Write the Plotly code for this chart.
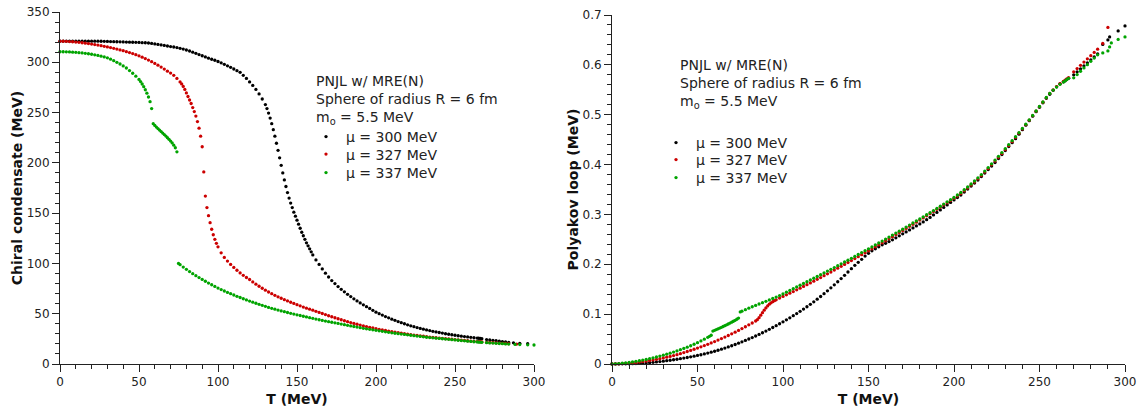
import plotly.graph_objects as go

# ---------------- data ----------------
MU_LABELS = ["μ = 300 MeV", "μ = 327 MeV", "μ = 337 MeV"]
COLORS = ["#000000", "#cc0000", "#00a400"]

# Chiral condensate (MeV) vs T (MeV)
T_CC300 = (list(range(0, 131, 2)) + list(range(131, 161)) + list(range(162, 263, 2))
           + [264, 265, 266, 267] + list(range(270, 285, 2)) + [287, 291, 296])
CC300 = [
    321, 321, 321, 321, 321, 321, 321, 321, 321, 321,
    321, 321, 321, 320.9, 320.8, 320.7, 320.6, 320.5, 320.4, 320.3,
    320.2, 320.1, 320, 319.9, 319.8, 319.7, 319.5, 319.4, 319.2, 318.8,
    318.3, 317.8, 317.3, 316.8, 316.2, 315.6, 315.2, 314.6, 313.9, 313.1,
    312.2, 311.2, 310.1, 308.9, 307.7, 306.5, 305.3, 304.1, 303, 302,
    300.8, 299.5, 298, 296.5, 295, 293.3, 291.7, 290, 287, 284,
    280.5, 277, 273, 268.5, 263.5, 258,
    254, 249.5, 244.5, 239, 233, 226.5, 219.5, 212.5, 205, 197.5,
    190, 183, 176.5, 170.5, 165, 160, 155.5, 151, 147, 143,
    139, 135, 131, 127.5, 124, 120.5, 117.5, 114.5, 111.5, 108.5,
    103.5, 99, 94.5, 90.3, 86.5, 83, 80, 77, 74.3, 71.8,
    69.3, 67, 64.8, 62.7, 60.7, 58.8, 57, 55.3, 53.4, 51.5,
    50, 48.6, 47.2, 45.9, 44.6, 43.4, 42.2, 41.1, 40, 39,
    38, 37.1, 36.2, 35.4, 34.6, 33.9, 33.2, 32.5, 31.9, 31.3,
    30.7, 30.1, 29.6, 29.1, 28.6, 28.1, 27.7, 27.3, 26.9, 26.5,
    26.1,
    25.8, 25.6, 25.4, 25.2,
    24.3, 23.9, 23.5, 23.1, 22.7, 22.3, 21.9, 21.5,
    21.1, 20.6, 20.2,
]

T_CC327 = (list(range(0, 77, 2)) + list(range(77, 101)) + list(range(102, 263, 2))
           + [264, 265, 266, 267] + list(range(270, 285, 2)) + [289])
CC327 = [
    321, 320.9, 320.8, 320.6, 320.4, 320.1, 319.8, 319.4, 319, 318.6,
    318.1, 317.6, 317.1, 316.5, 315.9, 315.3, 314.6, 313.9, 313.1, 312.3,
    311.5, 310.6, 309.7, 308.7, 307.6, 306.4, 305.1, 303.7, 302.2, 300.6,
    298.9, 297.1, 295.2, 293.2, 291.2, 289.3, 287, 284, 280.5,
    278.5, 276, 273, 269.5, 266, 262.5, 259, 255, 251, 246.5,
    241, 234.5, 226.5, 216, 191, 167, 155.5, 147.5, 140.5, 134,
    128.5, 124, 120, 116.5,
    110.5, 106, 102.3, 99, 96, 93.2, 90.6, 88.2, 86, 84,
    81.6, 79.4, 77.3, 75.3, 73.4, 71.6, 69.9, 68.3, 66.8, 65.4,
    64, 62.7, 61.4, 60.2, 59, 57.8, 56.6, 55.5, 54.5, 53.5,
    52.4, 51.3, 50.2, 49.1, 48, 47, 46, 45, 44, 43,
    42.1, 41.2, 40.3, 39.5, 38.7, 37.9, 37.2, 36.5, 35.8, 35.1,
    34.5, 33.9, 33.3, 32.7, 32.2, 31.7, 31.2, 30.7, 30.2, 29.7,
    29.2, 28.8, 28.4, 28, 27.6, 27.2, 26.8, 26.4, 26.1, 25.8,
    25.5, 25.2, 24.9, 24.6, 24.3, 24, 23.7, 23.4, 23.1, 22.8,
    22.5,
    22.3, 22.2, 22.1, 22,
    21.6, 21.4, 21.2, 21, 20.8, 20.6, 20.4, 20.2,
    19.8,
]

T_CC337 = (list(range(0, 51, 2)) + list(range(51, 75)) + [75] + list(range(76, 263, 2))
           + [264, 265, 266, 267] + list(range(270, 285, 2)) + [288, 291, 296, 300])
CC337 = [
    310.5, 310.5, 310.4, 310.3, 310.1, 309.9, 309.6, 309.3, 308.9, 308.5,
    308, 307.4, 306.8, 306.1, 305.3, 304.4, 303.1, 301.6, 300, 298.3,
    296.4, 294.3, 291.8, 289.1, 286.2, 283,
    280.8, 278.4, 275.7, 272.7, 269.3, 265.5, 260.8, 254,
    239, 237.2, 235.6, 234.1, 232.6, 231.1, 229.6, 228.1,
    226.6, 225, 223.4, 221.7, 219.8, 217.6, 215, 211,
    100,
    98.8, 96.4, 94.1, 91.9, 89.8, 87.8, 85.9, 84.1, 82.3, 80.5,
    78.8, 77.1, 75.5, 74, 72.6, 71.2, 69.9, 68.6, 67.3, 66.1,
    64.9, 63.7, 62.6, 61.5, 60.4, 59.3, 58.3, 57.3, 56.3, 55.4,
    54.5, 53.6, 52.8, 52, 51.2, 50.4, 49.6, 48.9, 48.2, 47.5,
    46.8, 46.1, 45.4, 44.7, 44, 43.3, 42.7, 42.1, 41.5, 40.9,
    40.3, 39.7, 39.1, 38.5, 37.9, 37.3, 36.7, 36.1, 35.5, 35,
    34.5, 34, 33.5, 33, 32.5, 32, 31.5, 31, 30.6, 30.2,
    29.8, 29.4, 29, 28.6, 28.2, 27.8, 27.4, 27, 26.6, 26.3,
    26, 25.7, 25.4, 25.1, 24.8, 24.5, 24.2, 23.9, 23.6, 23.3,
    23, 22.7, 22.4, 22.1,
    21.9, 21.8, 21.7, 21.6,
    21.2, 21, 20.8, 20.6, 20.4, 20.2, 20, 19.8,
    19.5, 19.3, 19.1, 18.9,
]

# Polyakov loop vs T (MeV)
T_PL300 = (list(range(0, 263, 2)) + [264, 265, 266, 267] + list(range(270, 285, 2))
           + [287, 290, 291, 296, 300])
PL300 = [
    0, 0.0001, 0.0002, 0.0003, 0.0004, 0.0005, 0.0007, 0.001, 0.0013, 0.0017,
    0.0021, 0.0027, 0.0034, 0.0041, 0.0049, 0.0057, 0.0066, 0.0075, 0.0085, 0.0095,
    0.0106, 0.0118, 0.013, 0.0143, 0.0157, 0.0171, 0.0186, 0.0202, 0.0219, 0.0237,
    0.0256, 0.0276, 0.0297, 0.0319, 0.0342, 0.0366, 0.0391, 0.0417, 0.0444, 0.0472,
    0.0501, 0.0531, 0.0562, 0.0594, 0.0627, 0.0661, 0.0696, 0.0732, 0.0769, 0.0807,
    0.0846, 0.0886, 0.0927, 0.0969, 0.1012, 0.1056, 0.1101, 0.1148, 0.1197, 0.1248,
    0.13, 0.1354, 0.141, 0.1468, 0.1527, 0.1588, 0.165, 0.1714, 0.1779, 0.1845,
    0.1911, 0.198, 0.204, 0.21, 0.2165, 0.222, 0.227, 0.231, 0.235, 0.239,
    0.242, 0.2455, 0.249, 0.253, 0.257, 0.261, 0.265, 0.269, 0.273, 0.277,
    0.281, 0.285, 0.2895, 0.294, 0.299, 0.304, 0.309, 0.314, 0.319, 0.324,
    0.329, 0.334, 0.339, 0.345, 0.351, 0.357, 0.363, 0.369, 0.376, 0.383,
    0.39, 0.397, 0.404, 0.412, 0.42, 0.428, 0.436, 0.444, 0.452, 0.461,
    0.47, 0.479, 0.488, 0.497, 0.506, 0.515, 0.524, 0.533, 0.541, 0.549,
    0.556, 0.562,
    0.566, 0.568, 0.571, 0.573,
    0.58, 0.586, 0.592, 0.598, 0.604, 0.61, 0.616, 0.622,
    0.641, 0.65, 0.656, 0.668, 0.678,
]

T_PL327 = (list(range(0, 85, 2)) + list(range(85, 96)) + list(range(96, 263, 2))
           + [264, 265, 266, 267] + list(range(270, 285, 2)) + [287, 290])
PL327 = [
    0, 0.0001, 0.0004, 0.0008, 0.0013, 0.0019, 0.0025, 0.0032, 0.004, 0.0049,
    0.0059, 0.007, 0.0082, 0.0094, 0.0107, 0.0121, 0.0136, 0.0152, 0.0169, 0.0188,
    0.0208, 0.0229, 0.0251, 0.0273, 0.0296, 0.032, 0.0344, 0.0369, 0.0395, 0.0422,
    0.045, 0.0479, 0.0509, 0.054, 0.0572, 0.0605, 0.0639, 0.0674, 0.071, 0.0747,
    0.0785, 0.0822, 0.0862,
    0.089, 0.093, 0.098, 0.103, 0.108, 0.1125, 0.1165, 0.12, 0.1228, 0.125, 0.127,
    0.1288, 0.1322, 0.1355, 0.1387, 0.142, 0.1453, 0.1487, 0.1521, 0.1556, 0.1591,
    0.1626, 0.1662, 0.1698, 0.1734, 0.1771, 0.1808, 0.1845, 0.1883, 0.1921, 0.1959,
    0.1997, 0.2036, 0.2075, 0.2114, 0.2153, 0.2192, 0.2231, 0.2271, 0.2311, 0.2351,
    0.2391, 0.2431, 0.2472, 0.2513, 0.2554, 0.2595, 0.2636, 0.2677, 0.2719, 0.2761,
    0.2803, 0.2845, 0.2887, 0.293, 0.2973, 0.3016, 0.3059, 0.3102, 0.3146, 0.319,
    0.3234, 0.3278, 0.3322, 0.337, 0.342, 0.3475, 0.353, 0.359, 0.365, 0.3715,
    0.378, 0.385, 0.392, 0.3995, 0.407, 0.4145, 0.422, 0.43, 0.438, 0.446,
    0.4545, 0.463, 0.4715, 0.48, 0.489, 0.498, 0.507, 0.516, 0.525, 0.534,
    0.5425, 0.55, 0.5565, 0.5625,
    0.567, 0.5695, 0.572, 0.5745,
    0.586, 0.5925, 0.599, 0.6055, 0.612, 0.6185, 0.625, 0.6315,
    0.643, 0.675,
]

T_PL337 = (list(range(0, 57, 2)) + list(range(57, 77)) + list(range(78, 263, 2))
           + [264, 265, 266, 267] + list(range(270, 285, 2)) + [287, 290, 291, 292, 296, 300])
PL337 = [
    0, 0.0003, 0.0008, 0.0015, 0.0023, 0.0032, 0.0042, 0.0053, 0.0065, 0.0078,
    0.0092, 0.0107, 0.0123, 0.014, 0.0158, 0.0177, 0.0197, 0.0218, 0.024, 0.0263,
    0.0287, 0.0312, 0.0338, 0.0366, 0.0396, 0.0428, 0.0462, 0.0498, 0.0536,
    0.0556, 0.0577, 0.066, 0.0675, 0.069, 0.0705, 0.072, 0.0736, 0.0752, 0.0768,
    0.0785, 0.0802, 0.082, 0.0838, 0.0857, 0.0877, 0.0898, 0.0922, 0.1045, 0.106,
    0.109, 0.112, 0.1148, 0.1175, 0.1203, 0.123, 0.1258, 0.1286, 0.1314, 0.1343,
    0.1372, 0.1405, 0.144, 0.1475, 0.151, 0.1545, 0.158, 0.1615, 0.165, 0.1685,
    0.172, 0.1755, 0.1791, 0.1827, 0.1863, 0.1899, 0.1935, 0.1972, 0.2009, 0.2046,
    0.2083, 0.212, 0.2158, 0.2196, 0.2234, 0.2272, 0.231, 0.2349, 0.2388, 0.2427,
    0.2466, 0.2505, 0.2545, 0.2585, 0.2625, 0.2665, 0.2705, 0.2746, 0.2787, 0.2828,
    0.2869, 0.291, 0.2952, 0.2994, 0.3036, 0.3078, 0.312, 0.3164, 0.3208, 0.3252,
    0.3296, 0.334, 0.339, 0.344, 0.3495, 0.355, 0.361, 0.367, 0.3735, 0.38,
    0.387, 0.394, 0.4015, 0.409, 0.4165, 0.424, 0.432, 0.44, 0.448, 0.456,
    0.464, 0.4725, 0.481, 0.4895, 0.4985, 0.5075, 0.5165, 0.5255, 0.5345, 0.5425,
    0.5495, 0.5555, 0.561,
    0.5655, 0.568, 0.5705, 0.573,
    0.574, 0.5806, 0.5872, 0.5938, 0.6004, 0.607, 0.6136, 0.6202,
    0.624, 0.628, 0.636, 0.644, 0.651, 0.656,
]

NOTE_LINES = ["PNJL w/ MRE(N)", "Sphere of radius R = 6 fm", "m<sub>o</sub> = 5.5 MeV"]

LEFT = [(T_CC300, CC300), (T_CC327, CC327), (T_CC337, CC337)]
RIGHT = [(T_PL300, PL300), (T_PL327, PL327), (T_PL337, PL337)]
for tx, vy in LEFT + RIGHT:
    assert len(tx) == len(vy), (len(tx), len(vy))

# ---------------- figure ----------------
W, H = 1140, 410
FONT = "DejaVu Sans"
INK = "#222222"


def px(x):
    return x / W


def py(y):
    return 1 - y / H


fig = go.Figure()
legend_ids = ["legend", "legend2", "legend3", "legend4", "legend5", "legend6"]
for i, ((tx, vy), name, col) in enumerate(zip(LEFT, MU_LABELS, COLORS)):
    fig.add_trace(go.Scatter(x=tx, y=vy, mode="markers", name=name,
                             marker=dict(size=3.3, color=col, line=dict(width=0)),
                             xaxis="x", yaxis="y", legend=legend_ids[i], cliponaxis=False))
for i, ((tx, vy), name, col) in enumerate(zip(RIGHT, MU_LABELS, COLORS)):
    fig.add_trace(go.Scatter(x=tx, y=vy, mode="markers", name=name,
                             marker=dict(size=3.3, color=col, line=dict(width=0)),
                             xaxis="x2", yaxis="y2", legend=legend_ids[3 + i], cliponaxis=False))

axis_common = dict(showgrid=False, zeroline=False, showline=True, linecolor=INK, linewidth=1,
                   ticks="outside", ticklen=7, tickwidth=1, tickcolor=INK, automargin=False,
                   tickfont=dict(family=FONT, size=12, color=INK),
                   title_font=dict(family=FONT, size=14, color="#111111"))
minor_common = dict(ticks="outside", ticklen=4, tickcolor=INK)

# legend entry centres (px): left column and right column
LEG_LEFT_X, LEG_LEFT_Y = 306, [136, 153.5, 172]
LEG_RIGHT_X, LEG_RIGHT_Y = 656, [142, 159, 177]


def leg(xp, yc):
    return dict(x=px(xp), y=py(yc - 15), xanchor="left", yanchor="top",
                bgcolor="rgba(0,0,0,0)", font=dict(family=FONT, size=14, color=INK),
                itemsizing="trace", borderwidth=0)


layout_legends = {}
for i in range(3):
    layout_legends[legend_ids[i]] = leg(LEG_LEFT_X, LEG_LEFT_Y[i])
    layout_legends[legend_ids[3 + i]] = leg(LEG_RIGHT_X, LEG_RIGHT_Y[i])

fig.update_layout(
    width=W, height=H, margin=dict(l=0, r=0, t=0, b=0, autoexpand=False),
    paper_bgcolor="white", plot_bgcolor="white",
    font=dict(family=FONT, size=14, color=INK),
    xaxis=dict(domain=[px(60), px(534)], range=[0, 300], dtick=50, anchor="y",
               minor=dict(dtick=10, **minor_common),
               title=dict(text="<b>T (MeV)</b>", standoff=5), **axis_common),
    yaxis=dict(domain=[py(364), py(12)], range=[0, 350], dtick=50, anchor="x",
               minor=dict(dtick=10, **minor_common),
               title=dict(text="<b>Chiral condensate (MeV)</b>", standoff=0), **axis_common),
    xaxis2=dict(domain=[px(612), px(1125)], range=[0, 300], dtick=50, anchor="y2",
                minor=dict(dtick=10, **minor_common),
                title=dict(text="<b>T (MeV)</b>", standoff=5), **axis_common),
    yaxis2=dict(domain=[py(364), py(15)], range=[0, 0.7], dtick=0.1, tick0=0, anchor="x2",
                minor=dict(dtick=0.02, **minor_common),
                title=dict(text="<b>Polyakov loop (MeV)</b>", standoff=0), **axis_common),
    showlegend=True,
    **layout_legends,
)

note = "<br>".join(NOTE_LINES)
fig.add_annotation(x=px(314), y=py(71), xref="paper", yref="paper", xanchor="left",
                   yanchor="top", align="left", showarrow=False, text=note,
                   font=dict(family=FONT, size=14, color=INK))
fig.add_annotation(x=px(678), y=py(55), xref="paper", yref="paper", xanchor="left",
                   yanchor="top", align="left", showarrow=False, text=note,
                   font=dict(family=FONT, size=14, color=INK))

fig.write_html("out.html")
